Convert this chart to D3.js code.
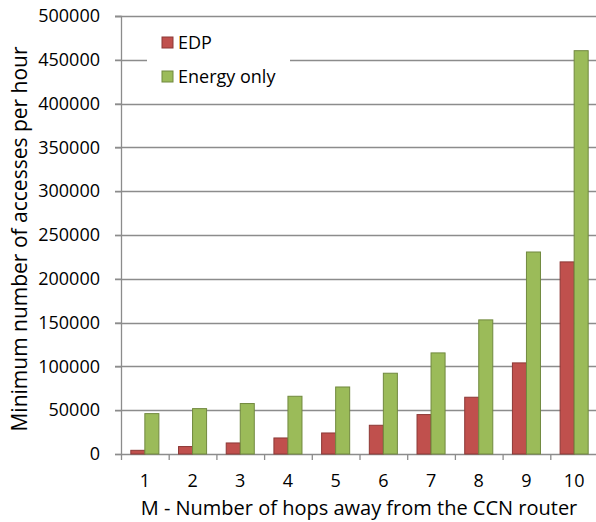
<!DOCTYPE html>
<html>
<head>
<meta charset="utf-8">
<script src="https://cdn.jsdelivr.net/npm/d3@7"></script>
<style>
  body { margin: 0; background: #fff; }
  text { font-family: "Open Sans", sans-serif; fill: #000; }
</style>
</head>
<body>
<svg id="chart" width="596" height="522"></svg>
<script>
// Data
const hops = ['1', '2', '3', '4', '5', '6', '7', '8', '9', '10'];
const edp = [4200, 8500, 12600, 18300, 24000, 32800, 45000, 64800, 104000, 219300];
const energyOnly = [46100, 51800, 57600, 65900, 76500, 92200, 115400, 153100, 230600, 460400];
const yTicks = [0, 50000, 100000, 150000, 200000, 250000, 300000, 350000, 400000, 450000, 500000];
const seriesNames = ['EDP', 'Energy only'];

const colors = { 'EDP': '#C0504D', 'Energy only': '#9BBB59' };
const strokes = { 'EDP': '#8C3836', 'Energy only': '#71893F' };

const svg = d3.select('#chart');
const margin = { top: 16, right: -2, bottom: 68, left: 121 };
const width = 596 - margin.left - margin.right;
const height = 522 - margin.top - margin.bottom;

const g = svg.append('g')
    .attr('transform', `translate(${margin.left},${margin.top})`);

const x = d3.scaleBand().domain(hops).range([0, width]);
const x1 = d3.scaleBand().domain(seriesNames)
    .range([0, x.bandwidth()]).paddingOuter(0.7).paddingInner(0);
const y = d3.scaleLinear().domain([0, 500000]).range([height, 0]);

// Gridlines
g.selectAll('.grid')
    .data(yTicks.slice(1))
    .enter()
    .append('line')
    .attr('x1', -6)
    .attr('x2', width)
    .attr('y1', d => Math.round(y(d)) + 0.5)
    .attr('y2', d => Math.round(y(d)) + 0.5)
    .style('stroke', '#8c8c8c')
    .style('stroke-width', '1.3px');

// Y axis
const yAxis = g.append('g')
    .call(d3.axisLeft(y).tickValues(yTicks).tickSize(6).tickPadding(15).tickFormat(d3.format('d')));
yAxis.select('.domain').style('stroke', '#8c8c8c').style('stroke-width', '1.3px');
yAxis.selectAll('.tick line').style('stroke', '#8c8c8c').style('stroke-width', '1.3px');
yAxis.selectAll('text').style('font-size', '18px').style('font-family', '"Open Sans", sans-serif');

// X axis
const xAxis = g.append('g')
    .attr('transform', `translate(0,${height})`)
    .call(d3.axisBottom(x).tickSize(0).tickPadding(20));
xAxis.select('.domain').style('stroke', '#8c8c8c').style('stroke-width', '1.3px');
xAxis.selectAll('text').style('font-size', '18px').style('font-family', '"Open Sans", sans-serif');

// Category separator tick marks
g.selectAll('.xtick')
    .data(hops)
    .enter()
    .append('line')
    .attr('x1', d => x(d) + 0.5)
    .attr('x2', d => x(d) + 0.5)
    .attr('y1', height)
    .attr('y2', height + 6)
    .style('stroke', '#8c8c8c')
    .style('stroke-width', '1.3px');

// Bars
const groups = g.selectAll('.group')
    .data(hops)
    .enter()
    .append('g')
    .attr('transform', d => `translate(${x(d)},0)`);

groups.selectAll('rect')
    .data((d, i) => [
        { name: 'EDP', value: edp[i] },
        { name: 'Energy only', value: energyOnly[i] }
    ])
    .enter()
    .append('rect')
    .attr('x', d => x1(d.name))
    .attr('width', x1.bandwidth())
    .attr('y', d => y(d.value))
    .attr('height', d => height - y(d.value))
    .style('fill', d => colors[d.name])
    .style('stroke', d => strokes[d.name])
    .style('stroke-width', '1px');

// Legend
const legend = svg.append('g').attr('transform', 'translate(147,22)');
legend.append('rect')
    .attr('width', 143)
    .attr('height', 70)
    .style('fill', '#fff');

seriesNames.forEach((name, i) => {
    const item = legend.append('g').attr('transform', `translate(15,${15 + i * 34})`);
    item.append('rect')
        .attr('width', 11)
        .attr('height', 11)
        .style('fill', colors[name])
        .style('stroke', strokes[name])
        .style('stroke-width', '1px');
    item.append('text')
        .attr('x', 16)
        .attr('y', 6)
        .attr('dy', '0.35em')
        .style('font-size', '18px')
        .text(name);
});

// Axis titles
svg.append('text')
    .attr('transform', 'translate(27,239) rotate(-90)')
    .attr('text-anchor', 'middle')
    .style('font-size', '21px')
    .text('Minimum number of accesses  per hour');

svg.append('text')
    .attr('x', 359)
    .attr('y', 515)
    .attr('text-anchor', 'middle')
    .style('font-size', '20px')
    .text('M - Number of hops away from the CCN router');
</script>
</body>
</html>
